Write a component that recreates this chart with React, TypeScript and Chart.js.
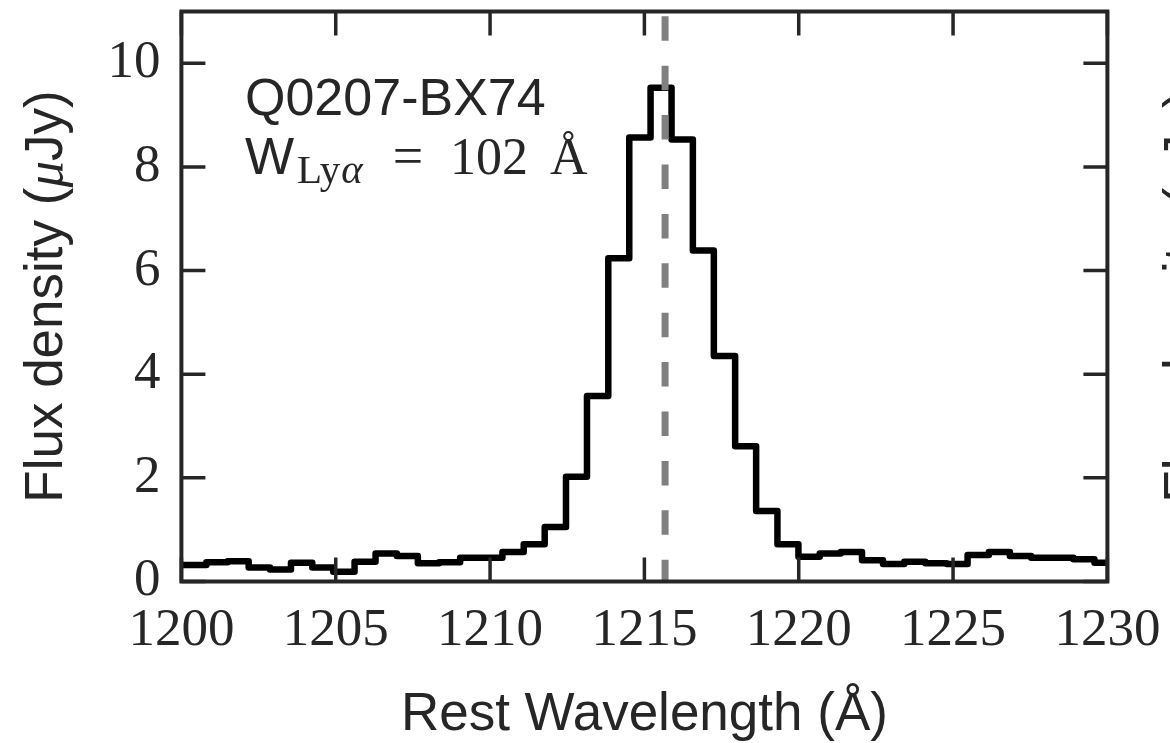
import React, { useEffect, useRef } from "react";
import { Chart, registerables } from "chart.js";

Chart.register(...registerables);

// Bin left edges (Å); last entry closes the final bin
const binEdges = [
  1200.0, 1200.81, 1201.5, 1202.18, 1202.87, 1203.55, 1204.24, 1204.92, 1205.61,
  1206.29, 1206.98, 1207.66, 1208.35, 1209.03, 1209.72, 1210.4, 1211.09, 1211.77,
  1212.46, 1213.14, 1213.83, 1214.51, 1215.2, 1215.88, 1216.57, 1217.25, 1217.94,
  1218.62, 1219.31, 1219.99, 1220.68, 1221.36, 1222.05, 1222.73, 1223.42, 1224.1,
  1224.79, 1225.47, 1226.16, 1226.84, 1227.53, 1228.21, 1228.9, 1229.58, 1230.27,
];

// Flux density per bin (μJy)
const fluxValues = [
  0.32, 0.37, 0.39, 0.27, 0.23, 0.36, 0.27, 0.19, 0.38, 0.54, 0.49, 0.35, 0.37,
  0.46, 0.46, 0.57, 0.72, 1.05, 2.02, 3.58, 6.24, 8.57, 9.53, 8.53, 6.39, 4.35,
  2.61, 1.36, 0.72, 0.48, 0.54, 0.57, 0.41, 0.34, 0.38, 0.35, 0.34, 0.51, 0.57,
  0.49, 0.46, 0.46, 0.43, 0.36,
];

const xTickValues = [1200, 1205, 1210, 1215, 1220, 1225, 1230];
const yTickValues = [0, 2, 4, 6, 8, 10];
const lyaRest = 1215.67;

const objectName = "Q0207-BX74";
const ewValue = "102";
const xTitle = "Rest Wavelength (Å)";

const FRAME = "#262626";
const SANS = "'Liberation Sans', Arial, sans-serif";
const SERIF = "'Liberation Serif', 'Times New Roman', serif";

const zeroPad = (s: any) => {
  s.paddingTop = 0;
  s.paddingBottom = 0;
  s.paddingLeft = 0;
  s.paddingRight = 0;
};

const drawYTitle = (ctx: CanvasRenderingContext2D, x: number, yc: number) => {
  const pieces = [
    { t: "Flux density (", f: `53px ${SANS}` },
    { t: "μ", f: `italic 53px ${SERIF}` },
    { t: "Jy)", f: `53px ${SANS}` },
  ];
  let total = 0;
  const widths = pieces.map((p) => {
    ctx.font = p.f;
    const w = ctx.measureText(p.t).width;
    total += w;
    return w;
  });
  ctx.save();
  ctx.translate(x, yc);
  ctx.rotate(-Math.PI / 2);
  ctx.textAlign = "left";
  ctx.textBaseline = "alphabetic";
  let cx = -total / 2;
  pieces.forEach((p, i) => {
    ctx.font = p.f;
    ctx.fillText(p.t, cx, 0);
    cx += widths[i];
  });
  ctx.restore();
};

const decorPlugin = {
  id: "decor",
  afterDatasetsDraw(chart: any) {
    const { ctx, chartArea, scales } = chart;
    const xs = scales.x;
    ctx.save();
    ctx.beginPath();
    ctx.rect(chartArea.left, chartArea.top, chartArea.right - chartArea.left, chartArea.bottom - chartArea.top);
    ctx.clip();
    const px = xs.getPixelForValue(lyaRest);
    ctx.strokeStyle = "#808080";
    ctx.lineWidth = 7;
    ctx.setLineDash([24.5, 24.9]);
    ctx.lineDashOffset = 49.4 - 4.8;
    ctx.beginPath();
    ctx.moveTo(px, chartArea.top);
    ctx.lineTo(px, chartArea.bottom);
    ctx.stroke();
    ctx.restore();
  },
  afterDraw(chart: any) {
    const { ctx, chartArea, scales } = chart;
    const { left, right, top, bottom } = chartArea;
    const xs = scales.x;
    const ys = scales.y;
    ctx.save();
    // ticks (inward, all four sides)
    ctx.strokeStyle = FRAME;
    ctx.lineWidth = 3.5;
    ctx.setLineDash([]);
    const tl = 24;
    ctx.beginPath();
    xTickValues.forEach((v) => {
      const p = xs.getPixelForValue(v);
      ctx.moveTo(p, bottom);
      ctx.lineTo(p, bottom - tl);
      ctx.moveTo(p, top);
      ctx.lineTo(p, top + tl);
    });
    yTickValues.forEach((v) => {
      const p = ys.getPixelForValue(v);
      ctx.moveTo(left, p);
      ctx.lineTo(left + tl, p);
      ctx.moveTo(right, p);
      ctx.lineTo(right - tl, p);
    });
    ctx.stroke();
    // frame
    ctx.lineWidth = 4;
    ctx.strokeRect(left, top, right - left, bottom - top);

    ctx.fillStyle = FRAME;
    ctx.textBaseline = "alphabetic";
    ctx.textAlign = "left";

    // annotation
    ctx.font = `52px ${SANS}`;
    ctx.fillText(objectName, 245, 115);
    ctx.fillText("W", 245, 174);
    ctx.font = `41px ${SERIF}`;
    ctx.fillText("Ly", 297, 183);
    const lyW = ctx.measureText("Ly").width;
    ctx.font = `italic 41px ${SERIF}`;
    ctx.fillText("α", 297 + lyW + 1, 183);
    ctx.font = `54px ${SERIF}`;
    ctx.textAlign = "center";
    ctx.fillText("=", 408, 174);
    ctx.font = `52px ${SERIF}`;
    ctx.textAlign = "left";
    ctx.fillText(ewValue, 450, 174);
    ctx.fillText("Å", 550, 174);

    // x title
    ctx.font = `53px ${SANS}`;
    ctx.textAlign = "center";
    ctx.fillText(xTitle, (left + right) / 2, 730);

    // y title (rotated)
    drawYTitle(ctx, 62, (top + bottom) / 2);
    // neighbouring panel's y title, cut by the image edge
    drawYTitle(ctx, 1201, (top + bottom) / 2);
    ctx.restore();
  },
};

export default function App() {
  const canvasRef = useRef<HTMLCanvasElement | null>(null);

  useEffect(() => {
    const canvas = canvasRef.current;
    if (!canvas) return;
    const points: { x: number; y: number }[] = fluxValues.map((v, i) => ({ x: binEdges[i], y: v }));
    points.push({ x: binEdges[binEdges.length - 1], y: fluxValues[fluxValues.length - 1] });

    const chart = new Chart(canvas, {
      type: "line",
      data: {
        datasets: [
          {
            data: points,
            borderColor: "#000000",
            borderWidth: 6.5,
            pointRadius: 0,
            stepped: "before",
            borderJoinStyle: "round",
            fill: false,
          },
        ],
      },
      options: {
        animation: false,
        responsive: false,
        devicePixelRatio: 1,
        layout: { padding: { top: 11.5, right: 62.6, left: 0, bottom: 0 } },
        plugins: { legend: { display: false }, tooltip: { enabled: false } },
        scales: {
          x: {
            type: "linear",
            min: 1200,
            max: 1230,
            afterBuildTicks: (s: any) => {
              s.ticks = xTickValues.map((v) => ({ value: v }));
            },
            afterFit: (s: any) => {
              s.height = 161.5;
              zeroPad(s);
            },
            grid: { display: false, drawTicks: false },
            border: { display: false },
            ticks: {
              autoSkip: false,
              maxRotation: 0,
              color: FRAME,
              padding: 23,
              font: { family: SERIF, size: 53, lineHeight: 1 },
              callback: (v: any) => String(v),
            },
          },
          y: {
            type: "linear",
            min: 0,
            max: 11,
            afterBuildTicks: (s: any) => {
              s.ticks = yTickValues.map((v) => ({ value: v }));
            },
            afterFit: (s: any) => {
              s.width = 181.4;
              zeroPad(s);
            },
            grid: { display: false, drawTicks: false },
            border: { display: false },
            ticks: {
              color: FRAME,
              padding: 21,
              font: { family: SERIF, size: 53, lineHeight: 1 },
              callback: (v: any) => String(v),
            },
          },
        },
      },
      plugins: [decorPlugin],
    });
    return () => chart.destroy();
  }, []);

  return (
    <div style={{ position: "fixed", left: 0, top: 0, width: 1170, height: 743, background: "#ffffff" }}>
      <canvas ref={canvasRef} width={1170} height={743} style={{ width: 1170, height: 743, display: "block" }} />
    </div>
  );
}
